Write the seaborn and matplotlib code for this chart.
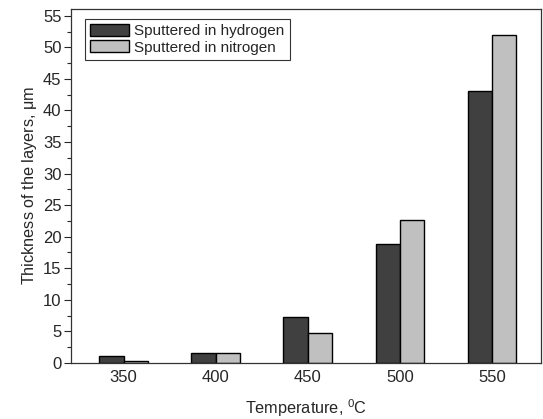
import pandas as pd
import numpy as np
import matplotlib
matplotlib.use("Agg")
import matplotlib.pyplot as plt
import seaborn as sns
from matplotlib.ticker import MultipleLocator

temperatures = ["350", "400", "450", "500", "550"]
hydrogen = [1.1, 1.6, 7.3, 18.8, 43.0]
nitrogen = [0.3, 1.5, 4.7, 22.6, 52.0]
series_names = ["Sputtered in hydrogen", "Sputtered in nitrogen"]

df = pd.DataFrame({
    "temperature": temperatures * 2,
    "thickness": hydrogen + nitrogen,
    "series": [series_names[0]] * 5 + [series_names[1]] * 5,
})

sns.set_style("ticks")
plt.rcParams["font.family"] = ["Liberation Sans", "DejaVu Sans"]
plt.rcParams["mathtext.default"] = "regular"

fig = plt.figure(figsize=(5.43, 4.19), dpi=100)
ax = fig.add_axes([0.131, 0.134, 0.865, 0.845])

sns.barplot(data=df, x="temperature", y="thickness", hue="series",
            palette=["#404040", "#c0c0c0"], width=0.53, gap=0,
            edgecolor="black", linewidth=1.0, ax=ax)

ax.set_ylim(0, 56.1)
ax.set_xlim(-0.57, 4.53)
ax.yaxis.set_major_locator(MultipleLocator(5))
ax.yaxis.set_minor_locator(MultipleLocator(2.5))
ax.tick_params(axis="y", which="major", length=5, width=0.8, labelsize=12, pad=2)
ax.tick_params(axis="y", which="minor", length=3, width=0.8)
ax.tick_params(axis="x", length=0, labelsize=12, pad=5)
for s in ax.spines.values():
    s.set_linewidth(0.9)
    s.set_color("#333333")

ax.set_xlabel(r"Temperature, $^{0}$C", fontsize=11.7, labelpad=9)
ax.set_ylabel(r"Thickness of the layers, $\mu$m", fontsize=11.7, labelpad=3)

leg = ax.legend(loc="upper left", bbox_to_anchor=(0.02, 0.985), fontsize=11,
                frameon=True, fancybox=False, edgecolor="black",
                handlelength=2.5, handleheight=0.8, handletextpad=0.35,
                borderpad=0.35, labelspacing=0.15, borderaxespad=0.3)
leg.get_frame().set_linewidth(0.8)

fig.savefig("out.png", dpi=100)
